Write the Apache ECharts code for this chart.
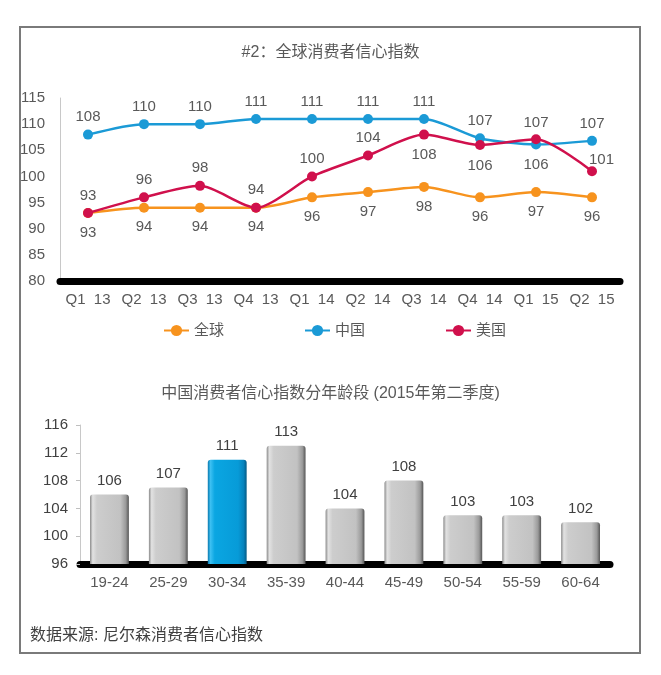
<!DOCTYPE html>
<html>
<head>
<meta charset="utf-8">
<script src="https://cdn.jsdelivr.net/npm/echarts@6/dist/echarts.min.js"></script>
<style>html,body{margin:0;padding:0;background:#fff;}#c{width:661px;height:675px;}</style>
</head>
<body>
<div id="c"></div>
<script>
// ---- Data ----
const quarters = ['Q1  13','Q2  13','Q3  13','Q4  13','Q1  14','Q2  14','Q3  14','Q4  14','Q1  15','Q2  15'];
const globalVals = [93, 94, 94, 94, 96, 97, 98, 96, 97, 96];
const chinaVals  = [108, 110, 110, 111, 111, 111, 111, 107.3, 106.1, 106.8];
const usVals     = [93, 96, 98.2, 94, 100, 104, 108, 106, 107.1, 101];
const chinaLabels = ['108','110','110','111','111','111','111','107','107','107'];
const usLabels    = ['93','96','98','94','100','104','108','106','106','101'];
const globalLabels = ['93','94','94','94','96','97','98','96','97','96'];
const lineTicks = [80, 85, 90, 95, 100, 105, 110, 115];

const ageGroups = ['19-24','25-29','30-34','35-39','40-44','45-49','50-54','55-59','60-64'];
const ageVals = [106, 107, 111, 113, 104, 108, 103, 103, 102];
const highlightGroup = '30-34';
const barTicks = [96, 100, 104, 108, 112, 116];

// ---- Styles ----
const FONT = '"Liberation Sans", "Noto Sans CJK SC", sans-serif';
const TXT = '#595959';
const C_GLOBAL = '#F7931E', C_CHINA = '#1B9AD6', C_US = '#D0104C';

// label position rules per point (US: some below, last one to the upper right)
const usPos = ['top','top','top','top','top','top','bottom','bottom','bottom','right'];
const chinaDist = [5,5,5,5,5,5,5,5,9,5];
const usDist = [5,5,5,5,5,5,8,8,13,0];

const grayGrad = new echarts.graphic.LinearGradient(0,0,1,0,[
  {offset:0,color:'#8a8a8a'},{offset:0.07,color:'#e2e2e2'},{offset:0.18,color:'#cdcdcd'},
  {offset:0.78,color:'#c2c2c2'},{offset:0.92,color:'#9a9a9a'},{offset:1,color:'#555555'}]);
const blueGrad = new echarts.graphic.LinearGradient(0,0,1,0,[
  {offset:0,color:'#0a78ad'},{offset:0.07,color:'#3cc0f2'},{offset:0.18,color:'#0aa6e2'},
  {offset:0.78,color:'#079bd8'},{offset:0.92,color:'#0682bc'},{offset:1,color:'#045a85'}]);

const chart = echarts.init(document.getElementById('c'), null, {renderer:'canvas'});
chart.setOption({
  backgroundColor:'#fff',
  animation:false,
  textStyle:{fontFamily:FONT},
  title:[
    {text:'#2：全球消费者信心指数', left:'center', top:40,
     textStyle:{fontSize:16, fontWeight:'normal', color:TXT, fontFamily:FONT}},
    {text:'中国消费者信心指数分年龄段 (2015年第二季度)', left:'center', top:381,
     textStyle:{fontSize:16, fontWeight:'normal', color:TXT, fontFamily:FONT}}
  ],
  legend:{
    data:['全球','中国','美国'], left:158, top:318, itemWidth:25, itemHeight:14, itemGap:80,
    textStyle:{fontSize:15, color:TXT, fontFamily:FONT}
  },
  grid:[
    {left:60, right:41, top:98, height:183},
    {left:80, right:51, top:425, height:139}
  ],
  xAxis:[
    {type:'category', gridIndex:0, data:quarters, boundaryGap:true,
     axisLine:{show:true, lineStyle:{color:'#000', width:7}},
     axisTick:{show:false},
     axisLabel:{fontSize:15, color:TXT, margin:11, interval:0}},
    {type:'category', gridIndex:1, data:ageGroups, boundaryGap:true,
     axisLine:{show:true, lineStyle:{color:'#000', width:7}},
     axisTick:{show:false},
     axisLabel:{fontSize:15, color:TXT, margin:11, interval:0}}
  ],
  yAxis:[
    {type:'value', gridIndex:0, min:lineTicks[0], max:lineTicks[lineTicks.length-1], interval:5,
     axisLine:{show:true, lineStyle:{color:'#c8c8c8', width:1}},
     axisTick:{show:false}, splitLine:{show:false},
     axisLabel:{fontSize:15, color:TXT, margin:15}},
    {type:'value', gridIndex:1, min:barTicks[0], max:barTicks[barTicks.length-1], interval:4,
     axisLine:{show:true, lineStyle:{color:'#c8c8c8', width:1}},
     axisTick:{show:true, length:4, lineStyle:{color:'#bfbfbf'}}, splitLine:{show:false},
     axisLabel:{fontSize:15, color:'#404040', margin:12}}
  ],
  series:[
    {name:'全球', type:'line', xAxisIndex:0, yAxisIndex:0, smooth:0.25,
     symbol:'circle', symbolSize:10, z:3,
     lineStyle:{color:C_GLOBAL, width:2.5}, itemStyle:{color:C_GLOBAL},
     data: globalVals.map((v,i)=>({value:v, label:{formatter:globalLabels[i]}})),
     label:{show:true, position:'bottom', distance:7, fontSize:15, color:TXT}},
    {name:'中国', type:'line', xAxisIndex:0, yAxisIndex:0, smooth:0.25,
     symbol:'circle', symbolSize:10, z:4,
     lineStyle:{color:C_CHINA, width:2.5}, itemStyle:{color:C_CHINA},
     data: chinaVals.map((v,i)=>({value:v, label:{formatter:chinaLabels[i], distance:chinaDist[i]}})),
     label:{show:true, position:'top', fontSize:15, color:TXT}},
    {name:'美国', type:'line', xAxisIndex:0, yAxisIndex:0, smooth:0.25,
     symbol:'circle', symbolSize:10, z:5,
     lineStyle:{color:C_US, width:2.5}, itemStyle:{color:C_US},
     data: usVals.map((v,i)=>{
       const lab = {formatter:usLabels[i], position:usPos[i], distance:usDist[i]};
       if (usPos[i]==='right') { lab.offset=[-8,-11]; }
       return {value:v, label:lab};
     }),
     label:{show:true, fontSize:15, color:TXT}},
    {name:'年龄段', type:'bar', xAxisIndex:1, yAxisIndex:1, barWidth:'66%',
     data: ageVals.map((v,i)=>({value:v, itemStyle:{color: ageGroups[i]===highlightGroup ? blueGrad : grayGrad}})),
     itemStyle:{borderRadius:[3,3,0,0]},
     label:{show:true, position:'top', distance:6, fontSize:15, color:'#404040'}}
  ],
  graphic:[
    {type:'rect', shape:{x:20, y:27, width:620, height:626},
     style:{fill:'none', stroke:'#7a7a7a', lineWidth:2}, z:-1, silent:true},
    {type:'text', left:30, top:628,
     style:{text:'数据来源: 尼尔森消费者信心指数', fontSize:16, fill:'#404040', fontFamily:FONT}}
  ]
});
</script>
</body>
</html>
